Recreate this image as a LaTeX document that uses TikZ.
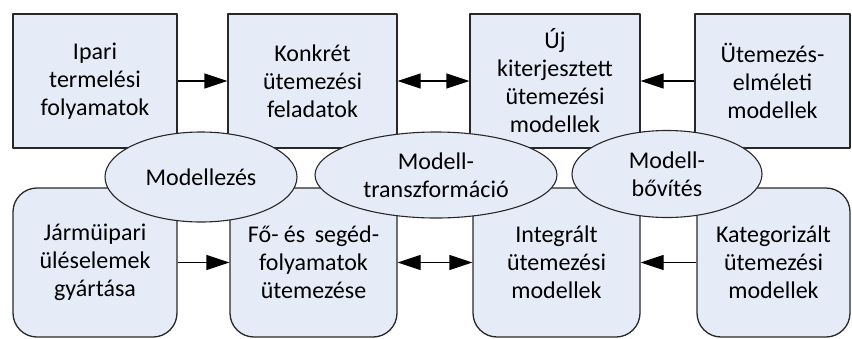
\documentclass[tikz,border=0pt]{standalone}
\usepackage{fontspec}
\setmainfont{Carlito}
\usetikzlibrary{shapes.geometric,arrows.meta}
\definecolor{boxfill}{RGB}{230,236,247}
\definecolor{boxline}{RGB}{40,40,40}
\tikzset{
	tbox/.style={draw=boxline,fill=boxfill,line width=1.3pt,inner sep=0pt,align=center},
	rbox/.style={tbox,rounded corners=24pt},
	oval/.style={draw=boxline,fill=boxfill,line width=1.1pt,ellipse,inner sep=0pt,align=center},
}
\begin{document}
\begin{tikzpicture}[x=1pt,y=-1pt,line join=round,>={Triangle[length=23pt,width=15pt]},
		font=\fontsize{24}{28}\selectfont]
	\useasboundingbox (0,0) rectangle (852,338);
	% upper row
	\node[tbox,minimum width=164pt,minimum height=134pt] (ipar) at (95,81) {Ipari\\termelési\\folyamatok};
	\node[tbox,minimum width=169pt,minimum height=134pt] (konk) at (312.5,81) {Konkrét\\ütemezési\\feladatok};
	\node[tbox,minimum width=170pt,minimum height=134pt] (ujmod) at (555,81) {Új\\kiterjesztett\\ütemezési\\modellek};
	\node[tbox,minimum width=155pt,minimum height=134pt] (elm) at (772.5,81) {Ütemezés-\\elméleti\\modellek};
	% lower row
	\node[rbox,minimum width=164pt,minimum height=149pt] (jarm) at (95,262.5) {Jármüipari\\üléselemek\\gyártása};
	\node[rbox,minimum width=167pt,minimum height=149pt] (fose) at (313.5,262.5) {Fő- és\, segéd-\\folyamatok\\ütemezése};
	\node[rbox,minimum width=167pt,minimum height=149pt] (integ) at (556.5,262.5) {Integrált\\ütemezési\\modellek};
	\node[rbox,minimum width=153pt,minimum height=149pt] (kat) at (773.5,262.5) {Kategorizált\\ütemezési\\modellek};
	% arrows
	\draw[line width=1.3pt,->] (ipar) -- (konk);
	\draw[line width=1.3pt,<->] (konk) -- (ujmod);
	\draw[line width=1.3pt,->] (elm) -- (ujmod);
	\draw[line width=1.3pt,->] (jarm) -- (fose);
	\draw[line width=1.3pt,<->] (fose) -- (integ);
	\draw[line width=1.3pt,->] (kat) -- (integ);
	% ovals on top
	\node[oval,minimum width=192pt,minimum height=90pt] (modl) at (201,177) {Modellezés};
	\node[oval,minimum width=242pt,minimum height=86pt] (transz) at (436,175) {Modell-\\transzformáció};
	\node[oval,minimum width=190pt,minimum height=87pt] (bov) at (667,174) {Modell-\\bővítés};
\end{tikzpicture}
\end{document}
